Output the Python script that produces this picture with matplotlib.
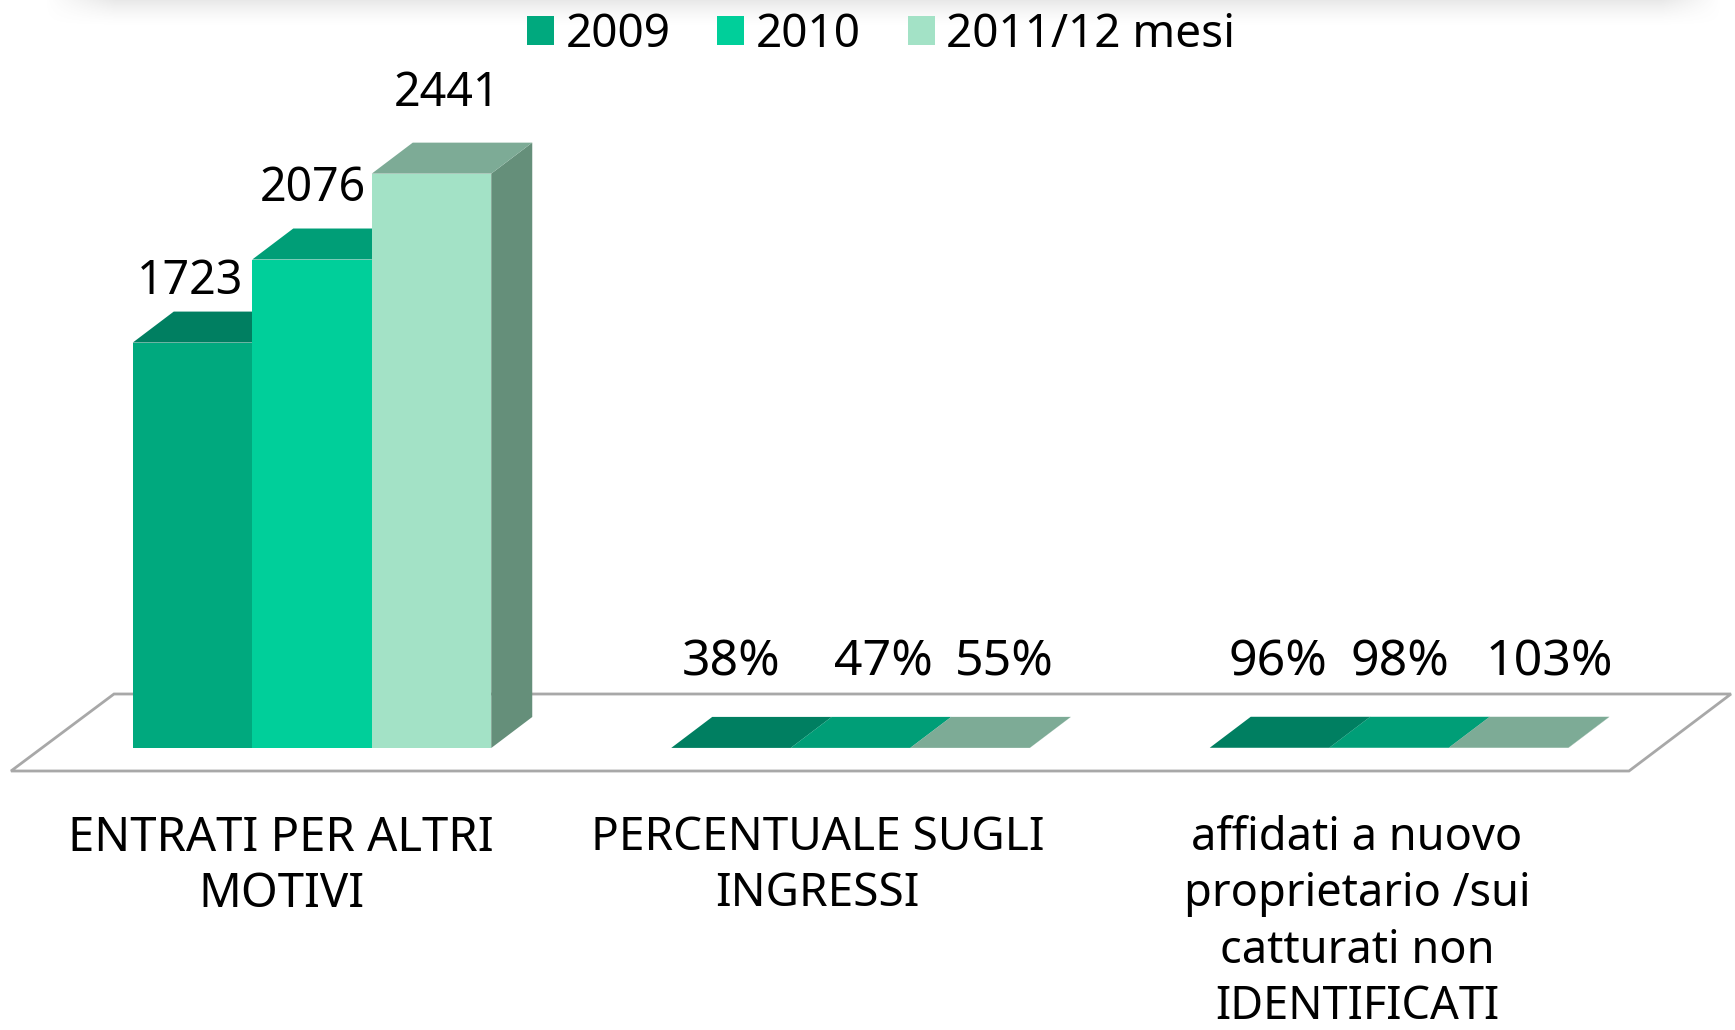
import numpy as np
import matplotlib
matplotlib.use('Agg')
import matplotlib.pyplot as plt
from matplotlib.patches import Patch, Polygon
from matplotlib.transforms import Affine2D

plt.rcParams['font.family'] = ['Noto Sans', 'DejaVu Sans']

categories = ['ENTRATI PER ALTRI\nMOTIVI', 'PERCENTUALE SUGLI\nINGRESSI',
              'affidati a nuovo\nproprietario /sui\ncatturati non\nIDENTIFICATI']
series = ['2009', '2010', '2011/12 mesi']
val_2009 = [1723, 0.38, 0.96]
val_2010 = [2076, 0.47, 0.98]
val_2011 = [2441, 0.55, 1.03]
labels_2009 = ['1723', '38%', '96%']
labels_2010 = ['2076', '47%', '98%']
labels_2011 = ['2441', '55%', '103%']

W, H = 1735, 1030
front = ['#00A97E', '#00CF9A', '#A3E2C6']
top = ['#007F61', '#009E77', '#7DAB96']
side = ['#00684F', '#007F61', '#658F7A']

# scale of the picture: pixels per category / per unit, and where 0,0 sits
px_cat = 538.5
px_val = 0.2353
x0, y0 = 312, 748
bar_w = 119.5 / px_cat
depth_x = 41 / px_cat
depth_y = 31 / px_val

fig = plt.figure(figsize=(W / 100, H / 100), dpi=100)
ax = fig.add_axes([0, 0, 1, 1])
ax.set_xlim(-x0 / px_cat, (W - x0) / px_cat)
ax.set_ylim(-(H - y0) / px_val, y0 / px_val)
ax.axis('off')

# pixel transform for the decoration (floor, shadow on top)
pix = Affine2D().scale(1, -1).translate(0, H)

# soft shadow along the top edge
xx = np.arange(W)
yy = np.arange(30)
fade_x = np.clip((xx - 45) / 70, 0, 1) * np.clip((1720 - xx) / 60, 0, 1)
fade_y = np.clip(1 - yy / 26, 0, 1) ** 1.5
shadow = np.zeros((30, W, 4))
shadow[..., :3] = 0.6
shadow[..., 3] = 0.22 * np.outer(fade_y, fade_x)
ax.imshow(shadow, extent=(-x0 / px_cat, (W - x0) / px_cat,
                          (y0 - 30) / px_val, y0 / px_val),
          aspect='auto', zorder=1)
ax.set_xlim(-x0 / px_cat, (W - x0) / px_cat)
ax.set_ylim(-(H - y0) / px_val, y0 / px_val)

floor = Polygon([(11, 771), (114, 694), (1731, 694), (1629, 771)], closed=True,
                facecolor='white', edgecolor='#a8a8a8', linewidth=2,
                transform=pix, zorder=2)
ax.add_patch(floor)

# label offsets from the top centre of the bar, in pixels
label_dx = [[-2, 1, 15], [0, 33, 34], [8, 11, 41]]
label_dy = [[61, 71, 80], [85, 85, 85], [85, 85, 85]]
label_size = [33.5, 36, 36]

x = np.arange(len(categories))
values = [val_2009, val_2010, val_2011]
labels = [labels_2009, labels_2010, labels_2011]
z = 3
for s in range(3):
    xs = x + (s - 1) * bar_w
    ax.bar(xs, values[s], width=bar_w, color=front[s], zorder=z + 2, label=series[s])
    for i, v in enumerate(values[s]):
        l, r = xs[i] - bar_w / 2, xs[i] + bar_w / 2
        ax.add_patch(Polygon([(l, v), (r, v), (r + depth_x, v + depth_y), (l + depth_x, v + depth_y)],
                             closed=True, facecolor=top[s], edgecolor='none', zorder=z + 1))
        ax.add_patch(Polygon([(r, 0), (r + depth_x, depth_y), (r + depth_x, v + depth_y), (r, v)],
                             closed=True, facecolor=side[s], edgecolor='none', zorder=z))
        ax.annotate(labels[s][i], (xs[i], v), xytext=(label_dx[i][s], label_dy[i][s]),
                    textcoords='offset pixels', ha='center', va='center',
                    fontsize=label_size[i], color='black', zorder=20)
    z += 3

# category labels
cat_dx = [-31, -33, -32]
cat_size = [34, 33, 32.5]
for i, c in enumerate(categories):
    ax.annotate(c, (x[i], 0), xytext=(cat_dx[i], -(834 - 747) + 20),
                textcoords='offset pixels', ha='center', va='top',
                fontsize=cat_size[i], color='black', linespacing=1.36 - 0.025 * (cat_size[i] - 30), zorder=20)

handles = [Patch(facecolor=front[i], edgecolor='none', label=series[i]) for i in range(3)]
fig.legend(handles=handles, loc='center', bbox_to_anchor=(881 / W, 1 - 35 / H), ncol=3,
           frameon=False, fontsize=33, handlelength=0.59, handleheight=0.59,
           handletextpad=0.25, columnspacing=1.02, borderpad=0, borderaxespad=0)

fig.savefig('out.png', dpi=100, facecolor='white')
